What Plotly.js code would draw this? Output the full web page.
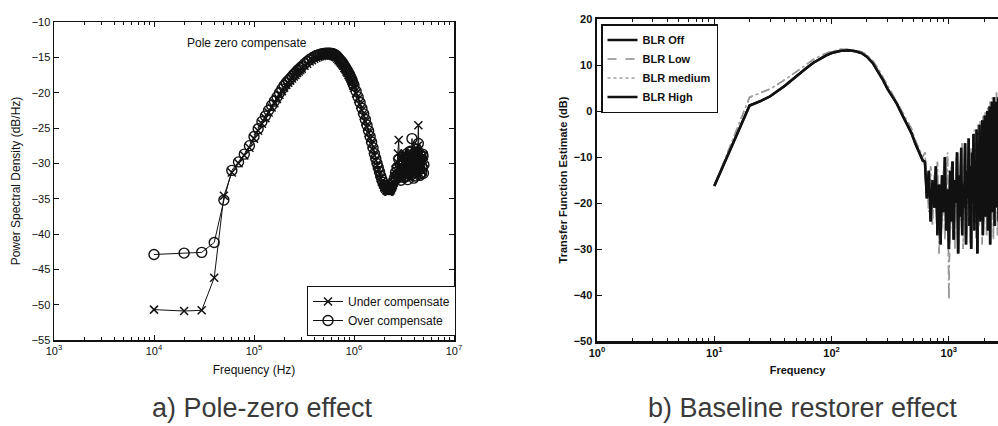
<!DOCTYPE html>
<html><head><meta charset="utf-8">
<script src="https://cdn.plot.ly/plotly-3.0.1.min.js"></script>
<style>html,body{margin:0;padding:0;background:#fff;}#chart{width:998px;height:426px;}</style>
</head><body><div id="chart"></div>
<script>
// ---- (a) Pole-zero effect : power spectral density (dB/Hz) vs frequency (Hz)
const psdFreq = [
  1e4,2e4,3e4,4e4,5e4,6e4,7e4,8e4,9e4,1e5,
  1.1e5,1.2e5,1.3e5,1.4e5,1.5e5,1.6e5,1.7e5,1.8e5,1.9e5,2.0e5,
  2.1e5,2.2e5,2.3e5,2.4e5,2.5e5,2.6e5,2.7e5,2.8e5,2.9e5,3.0e5,
  3.2e5,3.4e5,3.6e5,3.8e5,4.0e5,4.2e5,4.4e5,4.6e5,4.8e5,5.0e5,
  5.2e5,5.4e5,5.6e5,5.8e5,6.0e5,6.2e5,6.4e5,6.6e5,6.8e5,7.0e5,
  7.2e5,7.4e5,7.6e5,7.8e5,8.0e5,8.2e5,8.4e5,8.6e5,8.8e5,9.0e5,
  9.2e5,9.4e5,9.6e5,9.8e5,1.0e6,
  1.05e6,1.10e6,1.15e6,1.20e6,1.25e6,1.30e6,1.35e6,1.40e6,1.45e6,1.50e6,
  1.55e6,1.60e6,1.65e6,1.70e6,1.75e6,1.80e6,1.85e6,1.90e6,1.95e6,2.00e6,
  2.05e6,2.10e6,2.15e6,2.20e6,2.25e6,2.30e6,2.35e6,2.40e6,2.45e6,2.50e6,
  2.55e6,2.60e6,2.65e6,2.70e6,2.75e6,2.80e6,2.85e6,2.90e6,2.95e6,3.00e6,
  3.05e6,3.10e6,3.15e6,3.20e6,3.25e6,3.30e6,3.35e6,3.40e6,3.45e6,3.50e6,
  3.55e6,3.60e6,3.65e6,3.70e6,3.75e6,3.80e6,3.85e6,3.90e6,3.95e6,4.00e6,
  4.05e6,4.10e6,4.15e6,4.20e6,4.25e6,4.30e6,4.35e6,4.40e6,4.45e6,4.50e6,
  4.55e6,4.60e6,4.65e6,4.70e6,4.75e6,4.80e6,4.85e6,4.90e6,4.95e6,5.00e6];
const underPsd = [
  -50.7,-50.9,-50.8,-46.2,-34.6,-31.3,-30.0,-28.9,-27.8,-26.5,
  -25.4,-24.4,-23.6,-22.8,-22.1,-21.5,-20.9,-20.3,-19.8,-19.3,
  -18.9,-18.6,-18.3,-18.0,-17.7,-17.5,-17.2,-17.0,-16.8,-16.6,
  -16.2,-15.9,-15.6,-15.4,-15.2,-15.05,-14.95,-14.85,-14.8,-14.75,
  -14.7,-14.7,-14.7,-14.7,-14.75,-14.8,-14.9,-15.0,-15.2,-15.4,
  -15.6,-15.8,-16.0,-16.2,-16.5,-16.7,-17.0,-17.2,-17.5,-17.7,
  -18.0,-18.3,-18.6,-19.0,-19.3,
  -20.1,-20.9,-21.7,-22.5,-23.3,-24.1,-24.9,-25.7,-26.5,-27.3,
  -28.1,-28.9,-29.6,-30.3,-30.9,-31.5,-32.1,-32.6,-33.0,-33.4,
  -33.6,-33.8,-33.9,-34.0,-34.0,-33.9,-33.7,-33.4,-33.1,-32.7,
  -31.8,-30.9,-31.5,-29.8,-28.6,-26.7,-30.4,-30.9,-31.8,-29.4,
  -32.1,-30.9,-28.9,-28.6,-31.3,-31.6,-29.5,-29.8,-31.9,-30.5,
  -28.4,-28.9,-32.0,-31.2,-29.1,-29.4,-31.4,-30.6,-28.8,-28.2,
  -31.5,-30.9,-29.0,-27.9,-30.8,-29.7,-27.5,-24.6,-29.3,-30.3,
  -28.6,-28.8,-31.6,-31.0,-29.2,-29.6,-31.2,-30.4,-28.9,-29.9];
const overPsd = [
  -42.9,-42.7,-42.6,-41.2,-35.2,-31.0,-29.8,-28.7,-27.5,-26.2,
  -25.1,-24.1,-23.3,-22.5,-21.8,-21.2,-20.6,-20.0,-19.5,-19.0,
  -18.6,-18.3,-18.0,-17.7,-17.4,-17.2,-16.9,-16.7,-16.5,-16.3,
  -15.9,-15.6,-15.3,-15.1,-14.9,-14.75,-14.65,-14.55,-14.5,-14.45,
  -14.4,-14.4,-14.4,-14.4,-14.45,-14.5,-14.6,-14.7,-14.9,-15.1,
  -15.3,-15.5,-15.7,-15.9,-16.2,-16.4,-16.7,-16.9,-17.2,-17.4,
  -17.7,-18.0,-18.3,-18.7,-19.0,
  -19.8,-20.6,-21.4,-22.2,-23.0,-23.8,-24.6,-25.4,-26.2,-27.0,
  -27.8,-28.6,-29.3,-30.0,-30.6,-31.2,-31.8,-32.3,-32.7,-33.1,
  -33.3,-33.5,-33.6,-33.7,-33.7,-33.6,-33.4,-33.1,-32.8,-32.4,
  -32.0,-31.3,-32.2,-30.6,-31.7,-29.4,-31.9,-30.2,-32.4,-30.0,
  -31.4,-29.1,-32.0,-29.2,-30.9,-31.9,-28.7,-30.3,-32.3,-29.0,
  -31.2,-30.8,-28.3,-28.4,-31.6,-26.5,-30.1,-29.6,-32.1,-31.3,
  -28.5,-29.1,-31.8,-30.7,-28.0,-28.6,-31.1,-27.2,-30.5,-29.9,
  -31.7,-31.5,-28.9,-29.4,-31.3,-30.6,-28.7,-29.0,-31.4,-30.2];
const psdNames = ['Under compensate','Over compensate'];
const psdTicks = [1e3,1e4,1e5,1e6,1e7];
const psdTickText = ['10<sup>3</sup>','10<sup>4</sup>','10<sup>5</sup>','10<sup>6</sup>','10<sup>7</sup>'];

// ---- (b) Baseline restorer effect : transfer function estimate (dB) vs frequency
const blrFreq = [10,20,25,30,40,50,60,70,80,90,100,120,140,160,180,200,225,250,275,300,330,360,400,440,480,520,560,600,
  625,650,675,700,725,750,775,800,825,850,875,900,925,950,975,1000,1025,1050,1075,1100,1125,1150,1175,1200,
  1225,1250,1275,1300,1325,1350,1375,1400,1425,1450,1475,1500,1525,1550,1575,1600,1625,1650,1675,1700,
  1725,1750,1775,1800,1825,1850,1875,1900,1925,1950,1975,2000,2025,2050,2075,2100,2125,2150,2175,2200,
  2225,2250,2275,2300,2325,2350,2375,2400,2425,2450,2475,2500,2525,2550,2575,2600,2625,2650,2675,2700];
const blrOff = [-16.3,1.2,2.2,3.2,5.5,7.6,9.2,10.5,11.4,12.1,12.6,13.1,13.2,13.0,12.6,11.8,10.4,8.6,6.7,4.8,3.0,1.6,-0.8,-2.8,-4.8,-7.2,-9.0,-10.8,
  -11,-19,-13,-24,-15,-21,-12,-27,-16,-29,-14,-22,-10,-26,-17,-30,-13,-24,-11,-28,-15,-20,-9,-31,
  -14,-23,-8,-27,-16,-21,-7,-29,-13,-19,-6,-25,-12,-30,-9,-18,-5,-26,-11,-22,
  -4,-31,-10,-17,-3,-24,-8,-20,-2,-27,-12,-15,-1,-23,-7,-18,0,-26,-9,-14,
  1,-29,-6,-19,2,-22,-10,-13,3,-25,-5,-16,2,-21,-8,-12,3,-24,-4,-15];
const blrLow = [-16.3,3.0,4.0,4.8,6.8,8.6,10.0,11.2,12.0,12.6,13.0,13.4,13.4,13.2,12.9,12.2,10.9,9.2,7.3,5.5,3.7,2.2,-0.2,-2.0,-3.8,-6.5,-8.5,-10.0,
  -9,-16,-22,-12,-25,-14,-20,-11,-31,-18,-24,-13,-28,-17,-9,-41,-19,-12,-26,-15,-30,-10,-22,-16,
  -28,-11,-24,-7,-30,-13,-20,-9,-27,-6,-23,-14,-29,-8,-21,-12,-26,-4,-19,-28,
  -10,-16,-3,-25,-13,-2,-22,-11,-29,-1,-18,-24,-6,0,-20,-27,-9,1,-17,-23,
  -5,2,-26,-12,-15,3,-21,-28,-7,2,-19,-24,-11,4,-16,-27,-6,3,-20,-13];
const blrMedium = blrLow;   // the two gray traces coincide in the picture
const blrHigh = blrOff;     // the two black traces coincide in the picture
const blrNames = ['BLR Off','BLR Low','BLR medium','BLR High'];
const blrTicks = [1,10,100,1000];
const blrTickText = ['10<sup>0</sup>','10<sup>1</sup>','10<sup>2</sup>','10<sup>3</sup>'];

const FONT = 'Liberation Sans, Arial, Helvetica, sans-serif';

const traces = [
  {x: psdFreq, y: underPsd, name: psdNames[0], type:'scatter', mode:'lines+markers',
   xaxis:'x', yaxis:'y', legend:'legend',
   line:{color:'#111', width:1},
   marker:{symbol:'x-thin-open', size:8, line:{color:'#111', width:1.5}}},
  {x: psdFreq, y: overPsd, name: psdNames[1], type:'scatter', mode:'lines+markers',
   xaxis:'x', yaxis:'y', legend:'legend',
   line:{color:'#111', width:1},
   marker:{symbol:'circle-open', size:10, color:'#111', line:{color:'#222', width:1.4}}},
  {x: blrFreq, y: blrOff, name: blrNames[0], type:'scatter', mode:'lines',
   xaxis:'x2', yaxis:'y2', legend:'legend2', line:{color:'#111', width:2.5}},
  {x: blrFreq, y: blrLow, name: blrNames[1], type:'scatter', mode:'lines',
   xaxis:'x2', yaxis:'y2', legend:'legend2', line:{color:'#8a8a8a', width:1.6, dash:'dash'}},
  {x: blrFreq, y: blrMedium, name: blrNames[2], type:'scatter', mode:'lines',
   xaxis:'x2', yaxis:'y2', legend:'legend2', line:{color:'#a0a0a0', width:1.6, dash:'dot'}},
  {x: blrFreq, y: blrHigh, name: blrNames[3], type:'scatter', mode:'lines',
   xaxis:'x2', yaxis:'y2', legend:'legend2', line:{color:'#111', width:2.5}}
];

const W = 998, H = 426;
const px = v => v / W;
const py = v => 1 - v / H;

const tickFontA = {family: FONT, size: 11, color:'#111'};
const tickFontB = {family: FONT, size: 11, color:'#111', weight:'bold'};

const layout = {
  width: W, height: H,
  margin: {l:0, r:0, t:0, b:0},
  paper_bgcolor:'#fff', plot_bgcolor:'#fff',
  font: {family: FONT, color:'#111'},
  showlegend: true,
  xaxis: {type:'log', range:[3,7], domain:[px(54), px(454)], anchor:'y',
    tickvals: psdTicks, ticktext: psdTickText, ticks:'inside', ticklen:5, tickcolor:'#111',
    mirror:'ticks', showline:true, linecolor:'#111', linewidth:1.5,
    showgrid:false, zeroline:false, tickfont: tickFontA,
    minor:{ticks:'inside', ticklen:3, tickcolor:'#111', dtick:'D1', showgrid:false},
    title:{text:'Frequency (Hz)', font:{family:FONT, size:12, color:'#111'}, standoff:10}},
  yaxis: {range:[-55,-10], domain:[py(340), py(22)], anchor:'x', dtick:5,
    ticks:'inside', ticklen:5, tickcolor:'#111', mirror:'ticks', showline:true,
    linecolor:'#111', linewidth:1.5, showgrid:false, zeroline:false, tickfont: tickFontA,
    title:{text:'Power Spectral Density (dB/Hz)', font:{family:FONT, size:12, color:'#111'}, standoff:8}},
  xaxis2: {type:'log', range:[0, 3.419], domain:[px(597), 1], anchor:'y2',
    tickvals: blrTicks, ticktext: blrTickText, ticks:'inside', ticklen:5, tickcolor:'#111',
    mirror:'ticks', showline:true, linecolor:'#111', linewidth:2.5,
    showgrid:false, zeroline:false, tickfont: tickFontB,
    minor:{ticks:'inside', ticklen:3, tickcolor:'#111', dtick:'D1', showgrid:false},
    title:{text:'Frequency', font:{family:FONT, size:11, color:'#111', weight:'bold'}, standoff:9}},
  yaxis2: {range:[-50,20], domain:[py(341), py(19)], anchor:'x2', dtick:10,
    ticks:'inside', ticklen:5, tickcolor:'#111', mirror:false, showline:true,
    linecolor:'#111', linewidth:2.5, showgrid:false, zeroline:false, tickfont: tickFontB,
    title:{text:'Transfer Function Estimate (dB)', font:{family:FONT, size:11, color:'#111', weight:'bold'}, standoff:4}},
  legend: {x: px(307), y: py(286), xanchor:'left', yanchor:'top',
    bgcolor:'#fff', bordercolor:'#111', borderwidth:1,
    font:{family:FONT, size:12, color:'#111'}, itemwidth:30, tracegroupgap:0},
  legend2: {x: px(601), y: py(24), xanchor:'left', yanchor:'top',
    bgcolor:'#fff', bordercolor:'#111', borderwidth:1.5,
    font:{family:FONT, size:11, color:'#111', weight:'bold'}, itemwidth:30, tracegroupgap:0},
  annotations: [
    {xref:'paper', yref:'paper', x: px(185), y: py(43), xanchor:'left', yanchor:'middle',
     text:'Pole zero compensate', showarrow:false, font:{family:FONT, size:12, color:'#111'}},
    {xref:'paper', yref:'paper', x: px(262), y: py(408), xanchor:'center', yanchor:'middle',
     text:'a) Pole-zero effect', showarrow:false, font:{family:FONT, size:27, color:'#3a3a3a'}},
    {xref:'paper', yref:'paper', x: px(802), y: py(408), xanchor:'center', yanchor:'middle',
     text:'b) Baseline restorer effect', showarrow:false, font:{family:FONT, size:27, color:'#3a3a3a'}}
  ]
};

Plotly.newPlot('chart', traces, layout, {staticPlot:true, displayModeBar:false});
</script>
</body></html>
